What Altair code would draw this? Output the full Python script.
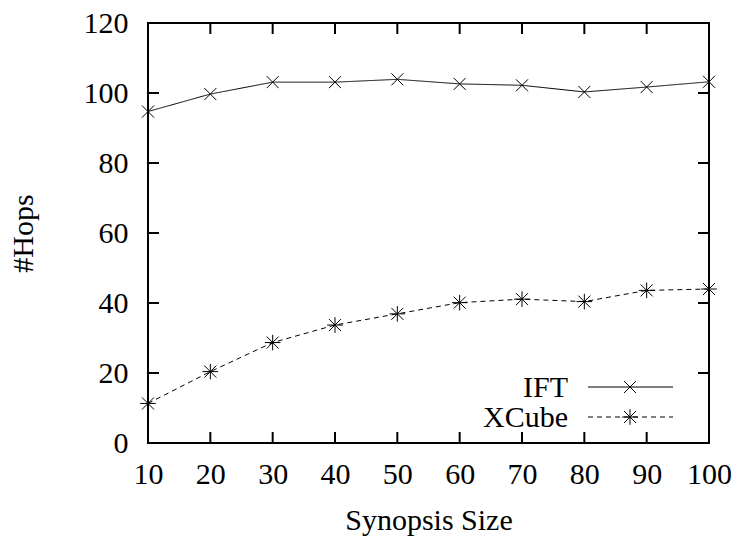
import altair as alt
import pandas as pd

sizes = [10, 20, 30, 40, 50, 60, 70, 80, 90, 100]
ift = [94.7, 99.7, 103.1, 103.1, 103.9, 102.6, 102.2, 100.3, 101.7, 103.2]
xcube = [11.3, 20.4, 28.7, 33.7, 36.9, 40.1, 41.1, 40.4, 43.6, 44.0]
series_names = ["IFT", "XCube"]
x_ticks = [10, 20, 30, 40, 50, 60, 70, 80, 90, 100]
y_ticks = [0, 20, 40, 60, 80, 100, 120]

W, H = 561, 420
FONT = "Liberation Serif"
FS = 30
TL = 11
XMIN, XMAX = 10, 100
YMIN, YMAX = 0, 120

X_PATH = "M-1,-1L1,1M-1,1L1,-1"
STAR_PATH = "M-1,-1L1,1M-1,1L1,-1M0,-1.3L0,1.3M-1.3,0L1.3,0"
shapes = {"IFT": X_PATH, "XCube": STAR_PATH}
dashes = {"IFT": [1, 0], "XCube": [5, 4]}

df = pd.DataFrame({
    "size": sizes * 2,
    "hops": ift + xcube,
    "series": ["IFT"] * len(sizes) + ["XCube"] * len(sizes),
})

xscale = alt.Scale(domain=[XMIN, XMAX], nice=False, zero=False)
yscale = alt.Scale(domain=[YMIN, YMAX], nice=False)

x_main = alt.Axis(values=x_ticks, orient="bottom", tickSize=0,
                  labelPadding=16, titlePadding=16, title="Synopsis Size")
y_main = alt.Axis(values=y_ticks, orient="left", tickSize=0,
                  labelPadding=20, titlePadding=45, title="#Hops")

layers = []
for i, name in enumerate(series_names):
    sub = df[df["series"] == name]
    base = alt.Chart(sub)
    xa = x_main if i == 0 else None
    ya = y_main if i == 0 else None
    enc = dict(x=alt.X("size:Q", scale=xscale, axis=xa),
               y=alt.Y("hops:Q", scale=yscale, axis=ya))
    layers.append(base.mark_line(color="black", strokeWidth=1,
                                 strokeDash=dashes[name]).encode(**enc))
    enc2 = dict(x=alt.X("size:Q", scale=xscale, axis=None),
                y=alt.Y("hops:Q", scale=yscale, axis=None))
    layers.append(base.mark_point(shape=shapes[name], size=144, filled=False,
                                  color="black", strokeWidth=1, opacity=1).encode(**enc2))

# inward tick marks on all four sides, drawn as line-shaped point symbols
TICK_SIZE = (2 * TL) ** 2
xt = pd.DataFrame({"t": x_ticks})
yt = pd.DataFrame({"t": y_ticks})
for edge, path in [(YMIN, "M0,0L0,-1"), (YMAX, "M0,0L0,1")]:
    layers.append(
        alt.Chart(xt).transform_calculate(edge=str(edge)).mark_point(
            shape=path, size=TICK_SIZE, filled=False, color="black",
            strokeWidth=2, opacity=1).encode(
            x=alt.X("t:Q", scale=xscale, axis=None),
            y=alt.Y("edge:Q", scale=yscale, axis=None)))
for edge, path in [(XMIN, "M0,0L1,0"), (XMAX, "M0,0L-1,0")]:
    layers.append(
        alt.Chart(yt).transform_calculate(edge=str(edge)).mark_point(
            shape=path, size=TICK_SIZE, filled=False, color="black",
            strokeWidth=2, opacity=1).encode(
            y=alt.Y("t:Q", scale=yscale, axis=None),
            x=alt.X("edge:Q", scale=xscale, axis=None)))

# legend (bottom right, gnuplot style)
leg_y = {"IFT": 364, "XCube": 394}
for name in series_names:
    ld = pd.DataFrame({"label": [name]})
    lb = alt.Chart(ld)
    layers.append(lb.mark_text(font=FONT, fontSize=FS, align="right", baseline="middle",
                               color="black").encode(
        text="label:N", x=alt.value(420), y=alt.value(leg_y[name] + 1)))
    layers.append(lb.mark_rule(color="black", strokeWidth=1, strokeDash=dashes[name]).encode(
        x=alt.value(440), x2=alt.value(525), y=alt.value(leg_y[name])))
    layers.append(lb.mark_point(shape=shapes[name], size=144, filled=False, color="black",
                                strokeWidth=1, opacity=1).encode(
        x=alt.value(482), y=alt.value(leg_y[name])))

chart = alt.layer(*layers).resolve_axis(
    x="independent", y="independent"
).properties(
    width=W, height=H,
    background="white",
    autosize=alt.AutoSizeParams(type="none"),
    padding={"left": 148, "top": 23, "right": 30, "bottom": 93},
).configure_view(
    stroke="black", strokeWidth=2
).configure_axis(
    domain=False, grid=False, labelFlush=False,
    labelFont=FONT, labelFontSize=FS, labelColor="black",
    titleFont=FONT, titleFontSize=FS, titleFontWeight="normal", titleColor="black",
).configure_text(font=FONT)

chart.save("out.html", embed_options={"renderer": "svg", "actions": False})
